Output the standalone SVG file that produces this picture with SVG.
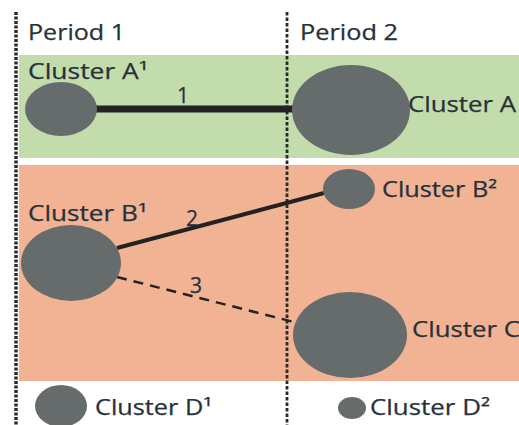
<svg xmlns="http://www.w3.org/2000/svg" width="519" height="425" viewBox="0 0 519 425">
<style>
  .lbl { font-family: "Open Sans", "Noto Sans", "DejaVu Sans", sans-serif; font-size: 21px; fill: #28303c; stroke: #28303c; stroke-width: 0.25px; }
  .num { font-family: "Open Sans", "Noto Sans", "DejaVu Sans", sans-serif; font-size: 21px; fill: #28303c; stroke: #28303c; stroke-width: 0.25px; text-anchor: middle; }
  .node { fill: #666b6b; }
  .period { fill: none; stroke: #2a2a2a; }
  .edge { stroke: #222222; fill: none; }
</style>
<rect x="0" y="0" width="519" height="425" fill="#ffffff"/>
<g id="bands">
  <rect x="19" y="55" width="500" height="103" fill="#c3dcab"/>
  <rect x="19" y="165" width="500" height="216" fill="#f1b394"/>
</g>
<g id="periods">
  <line class="period" x1="16" y1="12" x2="16" y2="425" stroke-width="3.5" stroke-dasharray="3 1.5"/>
  <line class="period" x1="287" y1="12" x2="287" y2="425" stroke-width="2.8" stroke-dasharray="3.5 2"/>
  <text class="lbl" x="28" y="40" textLength="97" lengthAdjust="spacingAndGlyphs">Period 1</text>
  <text class="lbl" x="300" y="40" textLength="98" lengthAdjust="spacingAndGlyphs">Period 2</text>
</g>
<g id="connectors">
  <line class="edge" x1="96" y1="109" x2="293" y2="109" stroke-width="7"/>
  <text class="num" x="183" y="103">1</text>
  <line class="edge" x1="117" y1="248" x2="324" y2="193" stroke-width="4"/>
  <text class="num" x="192" y="226">2</text>
  <line class="edge" x1="117" y1="277" x2="294" y2="322" stroke-width="2.5" stroke-dasharray="10 7"/>
  <text class="num" x="196" y="293">3</text>
</g>
<g id="cluster-a1">
  <ellipse class="node" cx="61" cy="109" rx="36" ry="27"/>
  <text class="lbl" x="28" y="79" textLength="120" lengthAdjust="spacingAndGlyphs">Cluster A¹</text>
</g>
<g id="cluster-a">
  <ellipse class="node" cx="351" cy="110" rx="59" ry="45"/>
  <text class="lbl" x="408" y="112" textLength="108" lengthAdjust="spacingAndGlyphs">Cluster A</text>
</g>
<g id="cluster-b1">
  <ellipse class="node" cx="71" cy="263" rx="50" ry="38"/>
  <text class="lbl" x="28" y="221" textLength="119" lengthAdjust="spacingAndGlyphs">Cluster B¹</text>
</g>
<g id="cluster-b2">
  <ellipse class="node" cx="349" cy="189" rx="26" ry="20"/>
  <text class="lbl" x="382" y="197" textLength="115" lengthAdjust="spacingAndGlyphs">Cluster B²</text>
</g>
<g id="cluster-c">
  <ellipse class="node" cx="350" cy="335" rx="57" ry="43"/>
  <text class="lbl" x="412" y="337" textLength="108" lengthAdjust="spacingAndGlyphs">Cluster C</text>
</g>
<g id="cluster-d1">
  <ellipse class="node" cx="61" cy="406" rx="26" ry="21"/>
  <text class="lbl" x="95" y="415" textLength="117" lengthAdjust="spacingAndGlyphs">Cluster D¹</text>
</g>
<g id="cluster-d2">
  <ellipse class="node" cx="352" cy="408" rx="14" ry="11"/>
  <text class="lbl" x="370" y="415" textLength="120" lengthAdjust="spacingAndGlyphs">Cluster D²</text>
</g>
</svg>
